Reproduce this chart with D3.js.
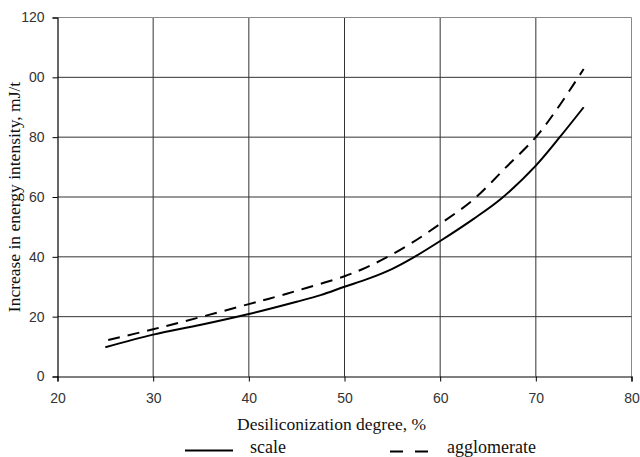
<!DOCTYPE html>
<html><head><meta charset="utf-8">
<script src="https://cdn.jsdelivr.net/npm/d3@7"></script>
<style>body{margin:0;background:#fff}svg{display:block}</style>
</head><body>
<script>
const xTicks = [20,30,40,50,60,70,80];
const yTicks = [0,20,40,60,80,100,120];
const yTickLabels = ["0","20","40","60","80","00","120"];
const scaleX = [25,30,35,40,45,47.5,50,52.5,55,57,60,63.5,66.4,70,72.5,75];
const scaleY = [9.8,14,17.3,20.9,25,27.2,30,32.7,36,39.4,45.3,52.7,59.5,70.5,80,90];
const aggX = [25.3,30,35,40,43,46,50,52.3,54.4,57,60,63.5,66.9,70,72,74,75];
const aggY = [12.2,15.8,19.9,24.2,26.8,29.6,33.5,36.5,39.8,44.6,51,59.2,70,80,88.4,97.9,102.8];
const seriesNames = ["scale","agglomerate"];
const xTitle = "Desiliconization degree, %";
const yTitle = "Increase in energy intensity, mJ/t";

const W=640,H=457;
const serif="Liberation Serif, Times New Roman, serif";
const svg=d3.select("body").append("svg").attr("width",W).attr("height",H);
const x=d3.scaleLinear().domain([20,80]).range([57.5,631.5]);
const y=d3.scaleLinear().domain([0,120]).range([376.5,17.5]);

// gridlines
svg.append("g").selectAll("line").data(xTicks.slice(1)).join("line")
  .attr("x1",d=>x(d)).attr("x2",d=>x(d)).attr("y1",y(0)).attr("y2",y(120))
  .attr("stroke",d=>d===80?"#8a8a8a":"#333").attr("stroke-width",1);
svg.append("g").selectAll("line").data(yTicks.slice(1)).join("line")
  .attr("x1",x(20)).attr("x2",x(80)).attr("y1",d=>y(d)).attr("y2",d=>y(d))
  .attr("stroke",d=>d===120?"#8a8a8a":"#333").attr("stroke-width",1);

// axes
const xAxis=d3.axisBottom(x).tickValues(xTicks).tickSize(5).tickPadding(12).tickFormat(d3.format("d"));
const yAxis=d3.axisLeft(y).tickValues(yTicks).tickSize(5).tickPadding(8).tickFormat((d,i)=>yTickLabels[i]);
const gx=svg.append("g").attr("transform",`translate(0,${y(0)})`).call(xAxis);
const gy=svg.append("g").attr("transform",`translate(${x(20)},0)`).call(yAxis);
[gx,gy].forEach(g=>{
  g.select(".domain").attr("stroke","#000").attr("stroke-width",1.2);
  g.selectAll(".tick line").attr("stroke","#000");
  g.selectAll(".tick text").attr("font-family","Liberation Sans, Arial, sans-serif").attr("font-size",14).attr("fill","#333");
});

// lines
const line=d3.line().x(d=>x(d[0])).y(d=>y(d[1])).curve(d3.curveCatmullRom.alpha(0.5));
svg.append("path").datum(d3.zip(scaleX,scaleY)).attr("d",line)
  .attr("fill","none").attr("stroke","#000").attr("stroke-width",2);
svg.append("path").datum(d3.zip(aggX,aggY)).attr("d",line)
  .attr("fill","none").attr("stroke","#000").attr("stroke-width",2).attr("stroke-dasharray","12,8");

// titles
svg.append("text").attr("x",237).attr("y",430)
  .attr("font-family",serif).attr("font-size",17.5).attr("fill","#111").text(xTitle);
svg.append("text").attr("transform","translate(20,197) rotate(-90)").attr("text-anchor","middle")
  .attr("font-family",serif).attr("font-size",17.5).attr("fill","#111").text(yTitle);

// legend
const lg=svg.append("g");
lg.append("line").attr("x1",185).attr("x2",233).attr("y1",450.5).attr("y2",450.5).attr("stroke","#000").attr("stroke-width",2);
lg.append("text").attr("x",250).attr("y",453).attr("font-family",serif).attr("font-size",18).attr("fill","#111").text(seriesNames[0]);
lg.append("line").attr("x1",390).attr("x2",430).attr("y1",451.5).attr("y2",451.5).attr("stroke","#000").attr("stroke-width",2).attr("stroke-dasharray","13,12");
lg.append("text").attr("x",447).attr("y",452.5).attr("font-family",serif).attr("font-size",18).attr("fill","#111").text(seriesNames[1]);
</script>
</body></html>
